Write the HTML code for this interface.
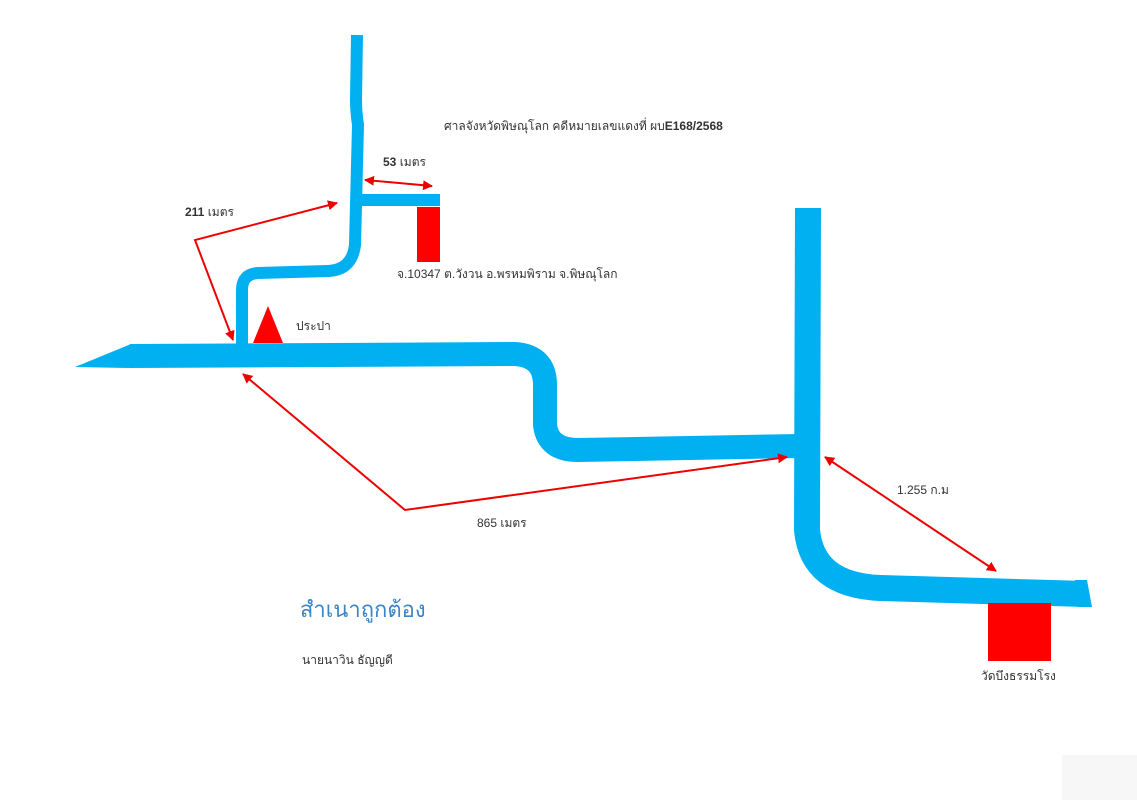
<!DOCTYPE html>
<html><head><meta charset="utf-8"><style>
html,body{margin:0;padding:0;background:#fff;}
svg{display:block;font-family:"Liberation Sans","Noto Sans CJK SC",sans-serif;}
</style></head><body>
<svg width="1137" height="800" viewBox="0 0 1137 800">
<defs>
<marker id="a" viewBox="0 0 10 10" refX="9" refY="5" markerWidth="5" markerHeight="5" orient="auto-start-reverse"><path d="M0,0 L10,5 L0,10 z" fill="#e00"/></marker>
</defs>
<g fill="none" stroke="#00b0f0" stroke-linejoin="round">
<path d="M130,356 L515,354 Q545,356 545,385 L545,425 Q548,450 578,450 L800,446" stroke-width="24"/>
<path d="M808,208 L807,530 Q812,585 880,588 L1086,594" stroke-width="26"/>
<path d="M357,35 L356,100 Q356,112 358,125 L355,245 Q352,270 328,271 L258,273 Q242,274 242,290 L242,346" stroke-width="12"/>
<path d="M357,200 L440,200" stroke-width="12"/>
</g>
<polygon points="75,367 131,344 131,368" fill="#00b0f0"/>
<polygon points="1075,580 1087,580 1092,607 1078,607" fill="#00b0f0"/>
<rect x="417" y="207" width="23" height="55" fill="#f00"/>
<polygon points="253,343 268,306 283,343" fill="#f00"/>
<rect x="988" y="603" width="63" height="58" fill="#f00"/>
<g stroke="#e00" stroke-width="2" fill="none">
<polyline points="337,203 195,240 233,340" marker-start="url(#a)" marker-end="url(#a)"/>
<line x1="365" y1="180" x2="432" y2="186" marker-start="url(#a)" marker-end="url(#a)"/>
<polyline points="243,374 405,510 787,457" marker-start="url(#a)" marker-end="url(#a)"/>
<line x1="825" y1="457" x2="996" y2="571" marker-start="url(#a)" marker-end="url(#a)"/>
</g>
<g fill="#333" font-size="12">
<text x="444" y="130">ศาลจังหวัดพิษณุโลก  คดีหมายเลขแดงที่ ผบ<tspan font-weight="bold">E168/2568</tspan></text>
<text x="383" y="166"><tspan font-weight="bold">53</tspan>  เมตร</text>
<text x="185" y="216"><tspan font-weight="bold">211</tspan>  เมตร</text>
<text x="397" y="278">จ.10347  ต.วังวน  อ.พรหมพิราม  จ.พิษณุโลก</text>
<text x="296" y="330">ประปา</text>
<text x="477" y="527">865  เมตร</text>
<text x="897" y="494">1.255  ก.ม</text>
<text x="302" y="664">นายนาวิน  ธัญญดี</text>
<text x="981" y="680">วัดบึงธรรมโรง</text>
</g>
<text x="300" y="617" font-size="22" fill="#3a86c8">สำเนาถูกต้อง</text>
<rect x="1062" y="755" width="75" height="45" fill="#f7f7f7"/>
</svg>
</body></html>
